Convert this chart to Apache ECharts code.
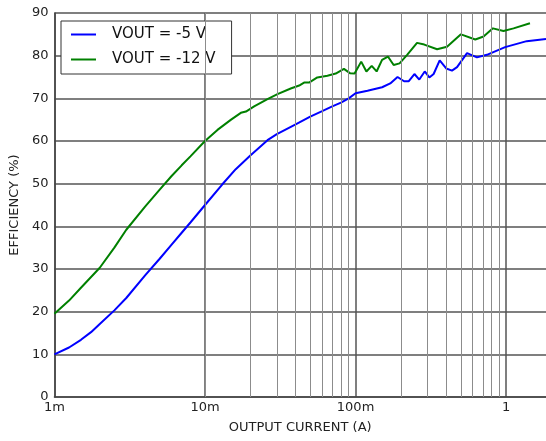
<!DOCTYPE html>
<html>
<head>
<meta charset="utf-8">
<script src="https://cdn.jsdelivr.net/npm/echarts@6/dist/echarts.min.js"></script>
<style>
  html, body { margin: 0; padding: 0; background: #fff; }
  #chart { width: 546px; height: 441px; }
</style>
</head>
<body>
<div id="chart"></div>
<script>
// VOUT = -5 V
const current5 = [0.001, 0.00125, 0.0015, 0.00175, 0.002, 0.0025, 0.003, 0.004, 0.005, 0.006, 0.007, 0.008,
  0.01, 0.013, 0.016, 0.02, 0.026, 0.03, 0.04, 0.05, 0.06, 0.07, 0.08, 0.09,
  0.1, 0.12, 0.15, 0.17, 0.19, 0.21, 0.225, 0.246, 0.265, 0.288, 0.309, 0.33,
  0.362, 0.4, 0.437, 0.472, 0.55, 0.64, 0.745, 0.985, 1.37, 1.84];
const eff5 = [10.0, 11.6, 13.4, 15.2, 17.1, 20.3, 23.2, 28.5, 32.4, 35.7, 38.5, 40.9,
  45.0, 49.8, 53.4, 56.6, 60.2, 61.6, 63.9, 65.7, 67.0, 68.1, 69.0, 70.0,
  71.2, 71.8, 72.6, 73.5, 75.0, 74.0, 74.0, 75.7, 74.4, 76.3, 74.9, 75.7,
  78.9, 77.0, 76.5, 77.3, 80.6, 79.6, 80.2, 82.0, 83.4, 83.9];

// VOUT = -12 V
const current12 = [0.001, 0.00125, 0.0015, 0.002, 0.0025, 0.003, 0.004, 0.005, 0.006, 0.007, 0.008,
  0.01, 0.0121, 0.0149, 0.0173, 0.0187, 0.0212, 0.026, 0.0303, 0.0371, 0.0422,
  0.0455, 0.0491, 0.0557, 0.065, 0.0738, 0.0837, 0.0917, 0.0985, 0.109, 0.118,
  0.128, 0.138, 0.15, 0.164, 0.179, 0.196, 0.22, 0.256, 0.286, 0.348, 0.405,
  0.501, 0.624, 0.708, 0.817, 0.96, 1.12, 1.44];
const eff12 = [19.5, 22.6, 25.6, 30.3, 35.0, 39.2, 44.6, 48.6, 51.8, 54.3, 56.4,
  60.0, 62.6, 65.0, 66.6, 66.9, 68.1, 69.8, 71.0, 72.3, 73.0,
  73.7, 73.7, 74.9, 75.3, 75.8, 76.9, 75.9, 75.8, 78.6, 76.3,
  77.6, 76.3, 79.0, 79.8, 77.8, 78.2, 80.2, 83.0, 82.6, 81.5, 82.1,
  85.0, 83.8, 84.5, 86.4, 85.8, 86.4, 87.6];

const decades = [0.001, 0.01, 0.1, 1];
const decadeLabels = ['1m', '10m', '100m', '1'];
const minorSteps = [2, 3, 4, 5, 6, 7, 8, 9];

const xMin = 0.001;
const xMax = 1.84;

// light vertical lines at 2..9 within each decade
const minorLines = [];
decades.forEach((d) => {
  minorSteps.forEach((m) => {
    if (d * m < xMax) minorLines.push({ xAxis: d * m });
  });
});

const font = 'DejaVu Sans';
const chart = echarts.init(document.getElementById('chart'));
chart.setOption({
  animation: false,
  grid: { left: 53, right: 0, top: 13, bottom: 44 },
  legend: {
    orient: 'vertical',
    left: 61,
    top: 21,
    padding: [6, 16, 7, 10],
    itemGap: 10,
    itemWidth: 25,
    itemHeight: 14,
    borderColor: '#333',
    borderWidth: 1,
    backgroundColor: '#fff',
    textStyle: { fontFamily: font, fontSize: 15, color: '#111', padding: [0, 0, 0, 11] },
    data: [
      { name: 'VOUT = -5 V', icon: 'path://M0,0 L25,0 L25,2 L0,2 Z' },
      { name: 'VOUT = -12 V', icon: 'path://M0,0 L25,0 L25,2 L0,2 Z' },
    ],
  },
  xAxis: {
    type: 'log',
    logBase: 10,
    min: xMin,
    max: xMax,
    name: 'OUTPUT CURRENT (A)',
    nameLocation: 'middle',
    nameGap: 24,
    nameTextStyle: { fontFamily: font, fontSize: 13, color: '#222' },
    axisLine: { lineStyle: { color: '#444', width: 1.5 } },
    axisTick: { show: false },
    axisLabel: {
      fontFamily: font,
      fontSize: 13,
      color: '#222',
      margin: 4,
      showMaxLabel: false,
      formatter: (v) => {
        const i = decades.findIndex((d) => Math.abs(Math.log10(d) - Math.log10(v)) < 1e-6);
        return i >= 0 ? decadeLabels[i] : '';
      },
    },
    splitLine: { show: true, showMaxLine: false, lineStyle: { color: '#555', width: 1.5 } },
  },
  yAxis: {
    type: 'value',
    min: 0,
    max: 90,
    interval: 10,
    name: 'EFFICIENCY (%)',
    nameLocation: 'middle',
    nameGap: 28,
    nameTextStyle: { fontFamily: font, fontSize: 13, color: '#222' },
    axisLine: { show: true, lineStyle: { color: '#444', width: 1.5 } },
    axisTick: { show: false },
    axisLabel: { fontFamily: font, fontSize: 13, color: '#222', margin: 6 },
    splitLine: { show: true, lineStyle: { color: '#555', width: 1.5 } },
  },
  series: [
    {
      name: 'VOUT = -5 V',
      type: 'line',
      symbol: 'none',
      color: '#0000ff',
      lineStyle: { width: 2 },
      z: 3,
      data: current5.map((x, i) => [x, eff5[i]]),
      markLine: {
        silent: true,
        symbol: 'none',
        label: { show: false },
        animation: false,
        lineStyle: { color: '#8c8c8c', width: 1, type: 'solid' },
        data: minorLines,
      },
    },
    {
      name: 'VOUT = -12 V',
      type: 'line',
      symbol: 'none',
      color: '#008000',
      lineStyle: { width: 2 },
      z: 3,
      data: current12.map((x, i) => [x, eff12[i]]),
    },
  ],
});
</script>
</body>
</html>
